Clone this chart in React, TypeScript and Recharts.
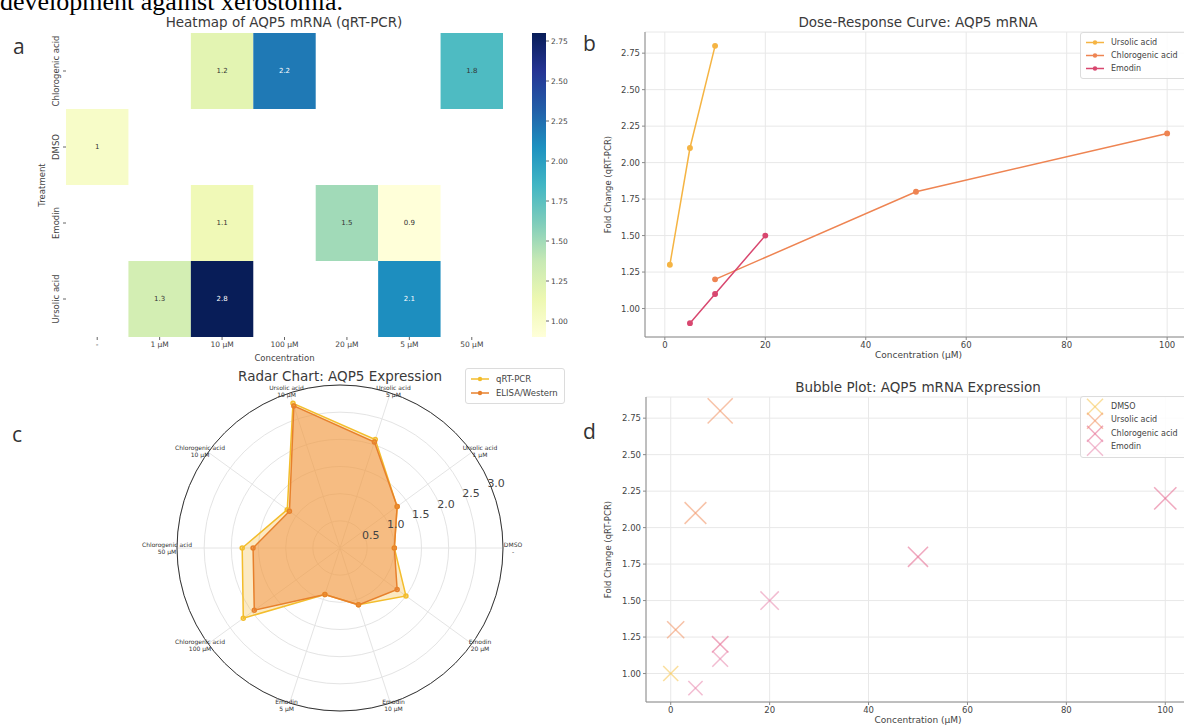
import React from "react";
import {
  ScatterChart,
  Scatter,
  LineChart,
  Line,
  XAxis,
  YAxis,
  ZAxis,
  CartesianGrid,
  ReferenceArea,
  Legend,
  RadarChart,
  Radar,
  PolarGrid,
  PolarAngleAxis,
  PolarRadiusAxis,
} from "recharts";

const FONT = "'DejaVu Sans', sans-serif";

// ---- panel a: heatmap ----
const treatments = ["Chlorogenic acid", "DMSO", "Emodin", "Ursolic acid"];
const concLabels = ["-", "1 µM", "10 µM", "100 µM", "20 µM", "5 µM", "50 µM"];
const heatChlorogenic = [null, null, 1.2, 2.2, null, null, 1.8];
const heatDmso = [1, null, null, null, null, null, null];
const heatEmodin = [null, null, 1.1, null, 1.5, 0.9, null];
const heatUrsolic = [null, 1.3, 2.8, null, null, 2.1, null];
const heatRows = [heatChlorogenic, heatDmso, heatEmodin, heatUrsolic];
const heatMin = 0.9;
const heatMax = 2.8;
const colorbarTicks = [1.0, 1.25, 1.5, 1.75, 2.0, 2.25, 2.5, 2.75];

// ---- panels b / d ----
const ursolicConc = [1, 5, 10];
const ursolicFold = [1.3, 2.1, 2.8];
const chloroConc = [10, 50, 100];
const chloroFold = [1.2, 1.8, 2.2];
const emodinConc = [5, 10, 20];
const emodinFold = [0.9, 1.1, 1.5];
const dmsoConc = [0];
const dmsoFold = [1.0];
const concTicks = [0, 20, 40, 60, 80, 100];
const foldTicks = [1.0, 1.25, 1.5, 1.75, 2.0, 2.25, 2.5, 2.75];

// ---- panel c: radar (counter-clockwise from 3 o'clock) ----
const radarTreatment = [
  "DMSO", "Ursolic acid", "Ursolic acid", "Ursolic acid",
  "Chlorogenic acid", "Chlorogenic acid", "Chlorogenic acid",
  "Emodin", "Emodin", "Emodin",
];
const radarConc = ["-", "1 µM", "5 µM", "10 µM", "10 µM", "50 µM", "100 µM", "5 µM", "10 µM", "20 µM"];
const radarQrt = [1.0, 1.3, 2.1, 2.8, 1.2, 1.8, 2.2, 0.9, 1.1, 1.5];
const radarElisa = [1.0, 1.3, 2.05, 2.75, 1.15, 1.6, 1.95, 0.9, 1.1, 1.3];
const radarTicks = [0.5, 1, 1.5, 2, 2.5, 3];
const radarMax = 3;
const radarOuter = 163;

const lineColors: Record<string, string> = {
  "Ursolic acid": "#f5b443",
  "Chlorogenic acid": "#ee8452",
  Emodin: "#d8476f",
};
const bubbleColors: Record<string, string> = {
  DMSO: "#f6c85a",
  "Ursolic acid": "#f29a6c",
  "Chlorogenic acid": "#e66f95",
  Emodin: "#ea8fb3",
};
const radarColors: Record<string, string> = {
  "qRT-PCR": "#f3bd2c",
  "ELISA/Western": "#e7802c",
};

const ylgnbu = ["#ffffd9", "#edf8b1", "#c7e9b4", "#7fcdbb", "#41b6c4", "#1d91c0", "#225ea8", "#253494", "#081d58"];

function rgb(h: string) {
  return [1, 3, 5].map((i) => parseInt(h.slice(i, i + 2), 16));
}

function heatRgb(v: number) {
  const t = Math.max(0, Math.min(1, (v - heatMin) / (heatMax - heatMin)));
  const p = t * 8;
  const i = Math.min(7, Math.floor(p));
  const f = p - i;
  const a = rgb(ylgnbu[i]);
  const b = rgb(ylgnbu[i + 1]);
  return a.map((c, k) => Math.round(c + (b[k] - c) * f));
}

function heatColor(v: number) {
  const [r, g, b] = heatRgb(v);
  return `rgb(${r},${g},${b})`;
}

function isDark(v: number) {
  const lum = heatRgb(v)
    .map((c) => {
      const s = c / 255;
      return s <= 0.03928 ? s / 12.92 : Math.pow((s + 0.055) / 1.055, 2.4);
    })
    .reduce((acc, c, k) => acc + c * [0.2126, 0.7152, 0.0722][k], 0);
  return lum < 0.408;
}

const heatCells = heatRows.flatMap((row, r) =>
  row
    .map((v, c) => (v == null ? null : { x: c + 0.5, y: r + 0.5, v }))
    .filter((d): d is { x: number; y: number; v: number } => d !== null)
);

const toXY = (xs: number[], ys: number[]) => xs.map((x, i) => ({ x, y: ys[i] }));

// recharts walks the circle clockwise, matplotlib counter-clockwise: flip the order after the first item
const radarData = radarTreatment
  .map((t, i) => ({ label: `${t}\n${radarConc[i]}`, qrt: radarQrt[i], elisa: radarElisa[i] }))
  .map((_, j, all) => all[(all.length - j) % all.length]);

const tickStyle = { fontSize: 8.5, fill: "#444", fontFamily: FONT };

const VLabel = (props: any) => {
  const { viewBox, value, at, size = 9 } = props;
  if (!viewBox) return null;
  const x = viewBox.x + at;
  const y = viewBox.y + viewBox.height / 2;
  return (
    <text x={x} y={y} transform={`rotate(-90 ${x} ${y})`} textAnchor="middle" dominantBaseline="central"
      fontSize={size} fontFamily={FONT} fill="#444">
      {value}
    </text>
  );
};

const HLabel = (props: any) => {
  const { viewBox, value, at, size = 9 } = props;
  if (!viewBox) return null;
  const x = viewBox.x + viewBox.width / 2;
  const y = viewBox.y + at;
  return (
    <text x={x} y={y} textAnchor="middle" dominantBaseline="central" fontSize={size} fontFamily={FONT} fill="#444">
      {value}
    </text>
  );
};

const HeatYTick = (props: any) => {
  const { x, y, payload } = props;
  const tx = x - 2;
  return (
    <text x={tx} y={y} transform={`rotate(-90 ${tx} ${y})`} textAnchor="middle" fontSize={8.5}
      fontFamily={FONT} fill="#444">
      {treatments[Math.floor(payload.value)]}
    </text>
  );
};

const AnnotShape = (props: any) => {
  const { cx, cy, payload } = props;
  return (
    <text x={cx} y={cy} textAnchor="middle" dominantBaseline="central" fontSize={7} fontFamily={FONT}
      fill={isDark(payload.v) ? "#fff" : "#333"}>
      {String(payload.v)}
    </text>
  );
};

const XMark = (props: any) => {
  const { cx, cy, width, size, color } = props;
  const w = width ?? (size ? 2 * Math.sqrt(size / Math.PI) : 16);
  const r = w / 2;
  return (
    <g stroke={color} strokeWidth={1.5} strokeOpacity={0.6}>
      <line x1={cx - r} y1={cy - r} x2={cx + r} y2={cy + r} />
      <line x1={cx - r} y1={cy + r} x2={cx + r} y2={cy - r} />
    </g>
  );
};

const RadarTick = (props: any) => {
  const { x, y, payload } = props;
  const a = (payload.coordinate * Math.PI) / 180;
  const ox = x + 2 * Math.cos(a);
  const oy = y + 6 * Math.sin(a);
  const [l1, l2] = String(payload.value).split("\n");
  return (
    <text x={ox} y={oy} textAnchor="middle" fontSize={6} fontFamily={FONT} fill="#333">
      <tspan x={ox} dy="-0.15em">{l1}</tspan>
      <tspan x={ox} dy="1.1em">{l2}</tspan>
    </text>
  );
};

const RadialTick = (props: any) => {
  const { x, y, payload } = props;
  if (!payload || !payload.value) return null;
  const a = (22.5 * Math.PI) / 180;
  return (
    <text x={x + 6 * Math.cos(a)} y={y - 6 * Math.sin(a)} textAnchor="middle" dominantBaseline="central"
      fontSize={11} fontFamily={FONT} fill="#444">
      {Number(payload.value).toFixed(1)}
    </text>
  );
};

const LegendBox = ({ names, colors, marker, width, rowH, fontSize }: any) => (
  <div
    style={{
      width,
      boxSizing: "border-box",
      background: "rgba(255,255,255,0.85)",
      border: "1px solid #dcdcdc",
      borderRadius: 3,
      padding: "3px 4px",
      fontFamily: FONT,
      fontSize,
      color: "#444",
      lineHeight: 1,
    }}
  >
    {names.map((name: string) => (
      <div key={name} style={{ display: "flex", alignItems: "center", height: rowH, whiteSpace: "nowrap" }}>
        <svg width={20} height={rowH} style={{ flex: "none", overflow: "visible" }}>
          {marker(colors[name], rowH)}
        </svg>
        <span style={{ marginLeft: 6 }}>{name}</span>
      </div>
    ))}
  </div>
);

const lineMarker = (c: string, h: number) => (
  <g>
    <line x1={1} x2={19} y1={h / 2} y2={h / 2} stroke={c} strokeWidth={1.5} />
    <circle cx={10} cy={h / 2} r={2.2} fill={c} />
  </g>
);

const xMarker = (c: string, h: number) => (
  <g stroke={c} strokeWidth={1.5} strokeOpacity={0.6}>
    <line x1={2} y1={h / 2 - 8} x2={18} y2={h / 2 + 8} />
    <line x1={2} y1={h / 2 + 8} x2={18} y2={h / 2 - 8} />
  </g>
);

const Title = ({ cx, cy, text }: { cx: number; cy: number; text: string }) => (
  <div
    style={{
      position: "absolute",
      left: cx - 250,
      width: 500,
      top: cy - 10,
      height: 20,
      lineHeight: "20px",
      textAlign: "center",
      fontFamily: FONT,
      fontSize: 13.5,
      color: "#3a3a3a",
      whiteSpace: "nowrap",
    }}
  >
    {text}
  </div>
);

const Letter = ({ x, y, text }: { x: number; y: number; text: string }) => (
  <div
    style={{
      position: "absolute",
      left: x,
      top: y,
      fontFamily: "'Open Sans', sans-serif",
      fontSize: 21,
      lineHeight: "21px",
      color: "#333",
    }}
  >
    {text}
  </div>
);

function Heatmap() {
  return (
    <ScatterChart width={510} height={365} margin={{ top: 33, right: 7, bottom: 0, left: 0 }}>
      <XAxis
        type="number"
        dataKey="x"
        domain={[0, 7]}
        ticks={concLabels.map((_, i) => i + 0.5)}
        interval={0}
        tickFormatter={(v: number) => concLabels[Math.floor(v)]}
        height={28}
        tickSize={3}
        axisLine={false}
        stroke="#666"
        tick={{ ...tickStyle, fontSize: 7.5 }}
        label={<HLabel value="Concentration" at={21} size={8.5} />}
      />
      <YAxis
        type="number"
        dataKey="y"
        domain={[0, 4]}
        reversed
        ticks={treatments.map((_, i) => i + 0.5)}
        interval={0}
        width={66}
        tickSize={3}
        axisLine={false}
        stroke="#666"
        tick={<HeatYTick />}
        label={<VLabel value="Treatment" at={42} size={8.5} />}
      />
      {heatCells.map((c) => (
        <ReferenceArea
          key={`${c.x}-${c.y}`}
          x1={c.x - 0.5}
          x2={c.x + 0.5}
          y1={c.y - 0.5}
          y2={c.y + 0.5}
          fill={heatColor(c.v)}
          fillOpacity={1}
          stroke="none"
        />
      ))}
      <Scatter data={heatCells} shape={<AnnotShape />} isAnimationActive={false} />
    </ScatterChart>
  );
}

function Colorbar() {
  const stops = ylgnbu.map((c, k) => ({ offset: 1 - k / 8, c })).reverse();
  return (
    <ScatterChart width={80} height={365} margin={{ top: 33, right: 14, bottom: 28, left: 12 }}>
      <defs>
        <linearGradient id="cbarGrad" x1="0" y1="0" x2="0" y2="1">
          {stops.map((s) => (
            <stop key={s.offset} offset={s.offset} stopColor={s.c} />
          ))}
        </linearGradient>
      </defs>
      <XAxis type="number" dataKey="x" domain={[0, 1]} hide />
      <YAxis
        type="number"
        dataKey="y"
        orientation="right"
        domain={[heatMin, heatMax]}
        ticks={colorbarTicks}
        interval={0}
        tickFormatter={(v: number) => v.toFixed(2)}
        width={40}
        tickSize={3}
        axisLine={false}
        stroke="#666"
        tick={{ ...tickStyle, fontSize: 7.5 }}
      />
      <ReferenceArea x1={0} x2={1} y1={heatMin} y2={heatMax} fill="url(#cbarGrad)" fillOpacity={1} stroke="none" />
      <Scatter data={colorbarTicks.map((v) => ({ x: 0.5, y: v }))} shape={() => <g />} isAnimationActive={false} />
    </ScatterChart>
  );
}

function DoseResponse() {
  const series = [
    { name: "Ursolic acid", data: toXY(ursolicConc, ursolicFold) },
    { name: "Chlorogenic acid", data: toXY(chloroConc, chloroFold) },
    { name: "Emodin", data: toXY(emodinConc, emodinFold) },
  ];
  return (
    <LineChart width={640} height={365} margin={{ top: 32, right: 8, bottom: 0, left: 0 }}>
      <CartesianGrid stroke="#e8e8e8" />
      <XAxis
        type="number"
        dataKey="x"
        domain={[-3.95, 104.95]}
        ticks={concTicks}
        interval={0}
        height={28}
        tickSize={3}
        stroke="#8a8a8a"
        tick={tickStyle}
        label={<HLabel value="Concentration (µM)" at={18} />}
      />
      <YAxis
        type="number"
        dataKey="y"
        domain={[0.805, 2.895]}
        ticks={foldTicks}
        interval={0}
        tickFormatter={(v: number) => v.toFixed(2)}
        width={85}
        tickSize={3}
        stroke="#8a8a8a"
        tick={tickStyle}
        label={<VLabel value="Fold Change (qRT-PCR)" at={48} size={8.5} />}
      />
      <Legend
        layout="vertical"
        align="center"
        verticalAlign="middle"
        wrapperStyle={{ left: 520, top: 32, width: 140 }}
        content={() => (
          <LegendBox width={140} rowH={13} fontSize={8} marker={lineMarker}
            names={series.map((s) => s.name)} colors={lineColors} />
        )}
      />
      {series.map((s) => (
        <Line
          key={s.name}
          data={s.data}
          dataKey="y"
          name={s.name}
          stroke={lineColors[s.name]}
          strokeWidth={1.5}
          dot={{ r: 2.2, fill: lineColors[s.name], stroke: lineColors[s.name] }}
          activeDot={false}
          isAnimationActive={false}
        />
      ))}
    </LineChart>
  );
}

function Bubble() {
  const series = [
    { name: "DMSO", data: toXY(dmsoConc, dmsoFold) },
    { name: "Ursolic acid", data: toXY(ursolicConc, ursolicFold) },
    { name: "Chlorogenic acid", data: toXY(chloroConc, chloroFold) },
    { name: "Emodin", data: toXY(emodinConc, emodinFold) },
  ];
  return (
    <ScatterChart width={640} height={365} margin={{ top: 32, right: 10, bottom: 0, left: 0 }}>
      <CartesianGrid stroke="#e8e8e8" />
      <XAxis
        type="number"
        dataKey="x"
        domain={[-5, 105]}
        ticks={concTicks}
        interval={0}
        height={28}
        tickSize={3}
        stroke="#8a8a8a"
        tick={tickStyle}
        label={<HLabel value="Concentration (µM)" at={18} />}
      />
      <YAxis
        type="number"
        dataKey="y"
        domain={[0.805, 2.895]}
        ticks={foldTicks}
        interval={0}
        tickFormatter={(v: number) => v.toFixed(2)}
        width={86}
        tickSize={3}
        stroke="#8a8a8a"
        tick={tickStyle}
        label={<VLabel value="Fold Change (qRT-PCR)" at={48} size={8.5} />}
      />
      <ZAxis type="number" dataKey="y" domain={[0, 3]} range={[0, 530]} />
      <Legend
        layout="vertical"
        align="center"
        verticalAlign="middle"
        wrapperStyle={{ left: 520, top: 31, width: 140 }}
        content={() => (
          <LegendBox width={140} rowH={13.5} fontSize={8} marker={xMarker}
            names={series.map((s) => s.name)} colors={bubbleColors} />
        )}
      />
      {series.map((s) => (
        <Scatter
          key={s.name}
          name={s.name}
          data={s.data}
          fill={bubbleColors[s.name]}
          shape={(p: any) => <XMark {...p} color={bubbleColors[s.name]} />}
          isAnimationActive={false}
        />
      ))}
    </ScatterChart>
  );
}

function RadarPanel() {
  return (
    <RadarChart
      width={420}
      height={365}
      cx={210}
      cy={188}
      outerRadius={radarOuter}
      startAngle={0}
      endAngle={-360}
      data={radarData}
      margin={{ top: 0, right: 0, bottom: 0, left: 0 }}
    >
      <PolarGrid
        gridType="circle"
        stroke="#e4e4e4"
        polarRadius={radarTicks.map((v) => (v / radarMax) * radarOuter)}
      />
      <PolarAngleAxis
        dataKey="label"
        tick={<RadarTick />}
        tickLine={false}
        axisLineType="circle"
        stroke="#333"
        axisLine={{ stroke: "#333", strokeWidth: 1 }}
      />
      <Radar
        name="qRT-PCR"
        dataKey="qrt"
        stroke={radarColors["qRT-PCR"]}
        strokeWidth={1.5}
        fill="#f6c04f"
        fillOpacity={0.35}
        dot={{ r: 2, fill: radarColors["qRT-PCR"], stroke: radarColors["qRT-PCR"] }}
        isAnimationActive={false}
      />
      <Radar
        name="ELISA/Western"
        dataKey="elisa"
        stroke={radarColors["ELISA/Western"]}
        strokeWidth={1.5}
        fill="#f08c3c"
        fillOpacity={0.48}
        dot={{ r: 2, fill: radarColors["ELISA/Western"], stroke: radarColors["ELISA/Western"] }}
        isAnimationActive={false}
      />
      <PolarRadiusAxis
        angle={22.5}
        type="number"
        domain={[0, radarMax]}
        ticks={radarTicks}
        tickCount={7}
        axisLine={false}
        tick={<RadialTick />}
      />
      <Legend
        layout="vertical"
        align="center"
        verticalAlign="middle"
        wrapperStyle={{ left: 335, top: 8, width: 100 }}
        content={() => (
          <LegendBox width={100} rowH={14} fontSize={8.5} marker={lineMarker}
            names={["qRT-PCR", "ELISA/Western"]} colors={radarColors} />
        )}
      />
    </RadarChart>
  );
}

export default function App() {
  return (
    <div
      style={{
        position: "absolute",
        left: 0,
        top: 0,
        width: 1184,
        height: 725,
        overflow: "hidden",
        background: "#fff",
      }}
    >
      <div
        style={{
          position: "absolute",
          left: 0,
          top: -11,
          fontFamily: "'Liberation Serif', serif",
          fontSize: 26,
          lineHeight: "26px",
          color: "#000",
          whiteSpace: "nowrap",
        }}
      >
        development against xerostomia.
      </div>

      <div style={{ position: "absolute", left: 0, top: 0 }}>
        <Heatmap />
      </div>
      <div style={{ position: "absolute", left: 520, top: 0 }}>
        <Colorbar />
      </div>
      <div style={{ position: "absolute", left: 560, top: 0 }}>
        <DoseResponse />
      </div>
      <div style={{ position: "absolute", left: 130, top: 360 }}>
        <RadarPanel />
      </div>
      <div style={{ position: "absolute", left: 560, top: 365 }}>
        <Bubble />
      </div>

      <Title cx={284} cy={22} text="Heatmap of AQP5 mRNA (qRT-PCR)" />
      <Title cx={918} cy={22} text="Dose-Response Curve: AQP5 mRNA" />
      <Title cx={340} cy={376} text="Radar Chart: AQP5 Expression" />
      <Title cx={918} cy={387} text="Bubble Plot: AQP5 mRNA Expression" />

      <Letter x={13} y={36} text="a" />
      <Letter x={583} y={33} text="b" />
      <Letter x={12} y={424} text="c" />
      <Letter x={583} y={421} text="d" />
    </div>
  );
}
